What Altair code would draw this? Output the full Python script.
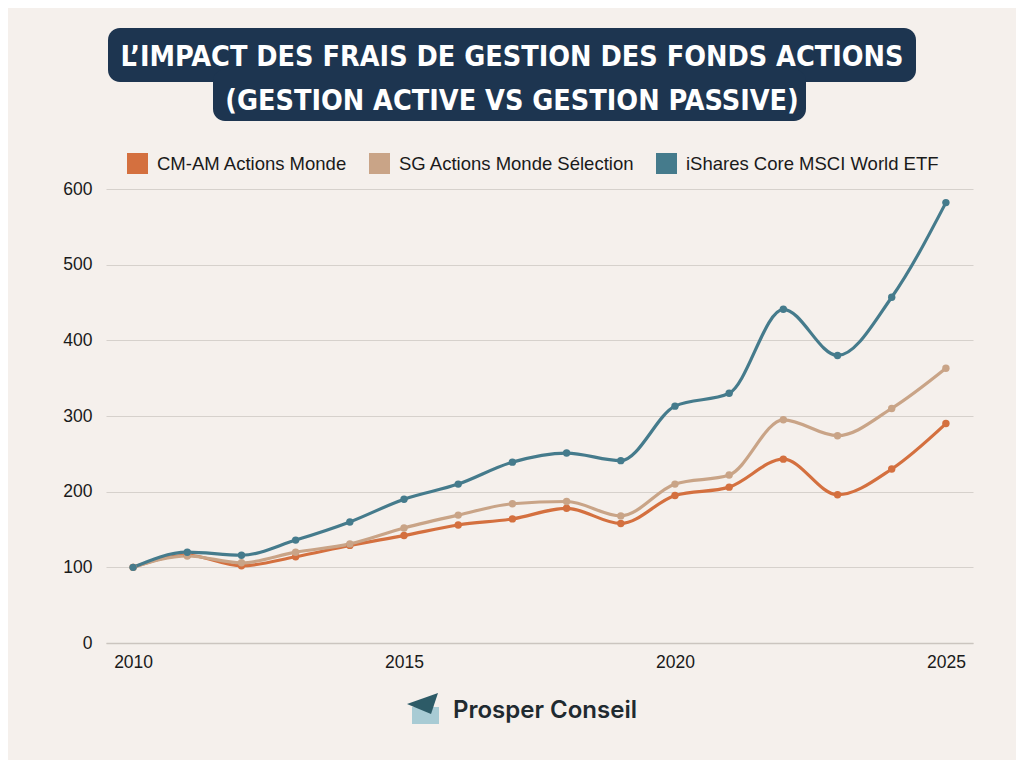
import altair as alt
import pandas as pd

YEARS = list(range(2010, 2026))
SERIES = ["CM-AM Actions Monde", "SG Actions Monde Sélection", "iShares Core MSCI World ETF"]
CMAM = [100, 116, 102, 114, 129, 142, 156, 164, 178, 158, 195, 206, 243, 196, 230, 290]
SG = [100, 115, 106, 120, 131, 152, 169, 184, 187, 168, 210, 222, 295, 274, 310, 363]
ISHARES = [100, 120, 116, 136, 160, 190, 210, 239, 251, 241, 313, 330, 441, 380, 457, 582]
COLORS = ["#D4703F", "#C9A487", "#457B8C"]
Y_TICKS = [0, 100, 200, 300, 400, 500, 600]
X_TICKS = [2010, 2015, 2020, 2025]
TITLE_LINES = ["L’IMPACT DES FRAIS DE GESTION DES FONDS ACTIONS", "(GESTION ACTIVE VS GESTION PASSIVE)"]
BRAND = "Prosper Conseil"

BG = "#F5F0EC"
NAVY = "#1D3550"
TEXT = "#1A1A1A"
GRID = "#D6D1CC"
BASE_FONT = "Liberation Sans"
TITLE_FONT = "Liberation Sans Narrow, DejaVu Sans Condensed, Arial Narrow, sans-serif"

rows = []
for i, (name, vals) in enumerate(zip(SERIES, [CMAM, SG, ISHARES])):
    for y, v in zip(YEARS, vals):
        rows.append({"year": y, "value": v, "series": name, "order": i})
df = pd.DataFrame(rows)

x_enc = alt.X("year:Q",
              scale=alt.Scale(domain=[2009.5, 2025.5], nice=False, zero=False),
              axis=alt.Axis(values=X_TICKS, format="d", title=None, grid=False, ticks=False,
                            domain=True, domainColor="#CBC5BF", domainWidth=1.5,
                            labelPadding=10, labelFontSize=17.5, labelColor=TEXT,
                            labelFont=BASE_FONT))
y_enc = alt.Y("value:Q",
              scale=alt.Scale(domain=[0, 600], nice=False),
              axis=alt.Axis(values=Y_TICKS, title=None, ticks=False, domain=False,
                            grid=True, gridColor=GRID, gridWidth=1,
                            labelPadding=14, labelFontSize=17.5, labelColor=TEXT,
                            labelFont=BASE_FONT))

legend = alt.Legend(title=None, orient="none", legendX=21, legendY=-36,
                    direction="horizontal", symbolType="square",
                    symbolSize=441, symbolStrokeWidth=0, symbolOpacity=1,
                    labelFontSize=18.5, labelOffset=9, columnPadding=21,
                    labelFont=BASE_FONT, labelColor=TEXT, labelLimit=400)
color_enc = alt.Color("series:N", scale=alt.Scale(domain=SERIES, range=COLORS), legend=legend)

base = alt.Chart(df)

lines = base.mark_line(interpolate="monotone", strokeWidth=3.2).encode(
    x=x_enc, y=y_enc, color=color_enc,
    order=alt.Order("year:Q"),
)

points = base.mark_point(filled=True, size=55, opacity=1).encode(
    x=x_enc, y=y_enc, color=color_enc,
)

one = pd.DataFrame({"k": [0]})

box_top = alt.Chart(one).mark_rect(color=NAVY, cornerRadius=12).encode(
    x=alt.value(2), x2=alt.value(810), y=alt.value(-161), y2=alt.value(-107))
box_bot = alt.Chart(one).mark_rect(color=NAVY, cornerRadius=12).encode(
    x=alt.value(107), x2=alt.value(700), y=alt.value(-120), y2=alt.value(-68))

t1 = alt.Chart(pd.DataFrame({"t": [TITLE_LINES[0]]})).mark_text(
    font=TITLE_FONT, fontWeight="bold", fontSize=28.5, color="white",
    align="center", baseline="middle").encode(
    text="t:N", x=alt.value(406), y=alt.value(-132))
t2 = alt.Chart(pd.DataFrame({"t": [TITLE_LINES[1]]})).mark_text(
    font=TITLE_FONT, fontWeight="bold", fontSize=28.5, color="white",
    align="center", baseline="middle").encode(
    text="t:N", x=alt.value(406), y=alt.value(-88))

logo_rect = alt.Chart(one).mark_rect(color="#A8CBD4").encode(
    x=alt.value(306), x2=alt.value(333), y=alt.value(518), y2=alt.value(535))
logo_tri = alt.Chart(one).mark_point(
    shape="M -1 0.03 L 1 -0.68 L 0.55 0.68 Z", filled=True, color="#2D5B67",
    size=961, opacity=1).encode(x=alt.value(316.5), y=alt.value(514.5))
brand = alt.Chart(pd.DataFrame({"t": [BRAND]})).mark_text(
    font="Inter", fontWeight=600, fontSize=24, color="#1F2A30",
    align="left", baseline="middle").encode(
    text="t:N", x=alt.value(347), y=alt.value(522))

chart = alt.layer(
    lines, points, box_top, box_bot, t1, t2, logo_rect, logo_tri, brand
).properties(
    width=867, height=454,
    padding={"left": 98, "top": 181, "right": 43, "bottom": 117},
    autosize=alt.AutoSizeParams(type="none"),
    background=BG,
).configure_view(stroke=None)

chart.save("out.html", embed_options={"renderer": "svg", "actions": False})
